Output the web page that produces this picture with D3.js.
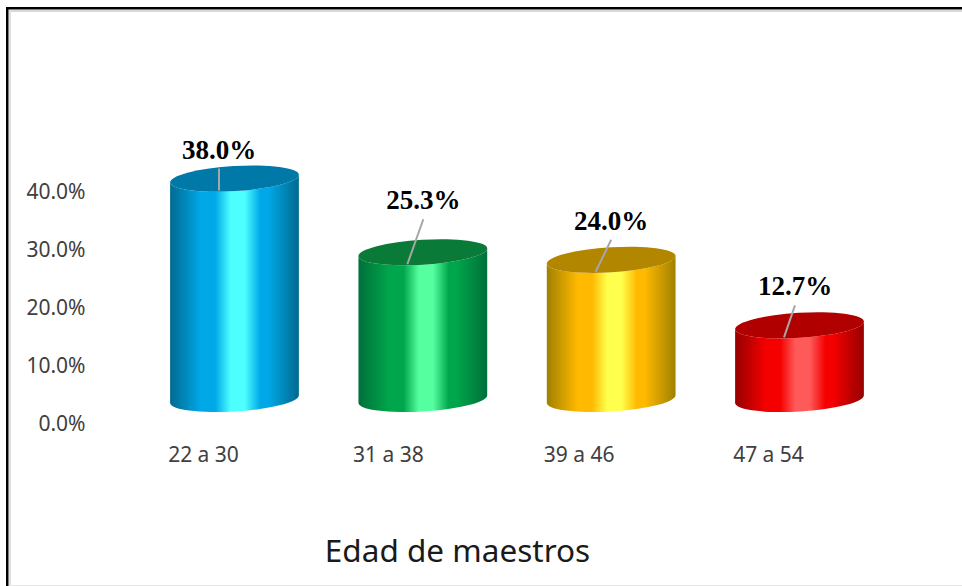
<!DOCTYPE html>
<html>
<head>
<meta charset="utf-8">
<script src="https://d3js.org/d3.v7.min.js"></script>
<style>
html, body { margin: 0; padding: 0; background: #fff; overflow: hidden; }
.axis path, .axis line { stroke: none; fill: none; }
.axis text, .cat { font-family: "Noto Sans", sans-serif; font-size: 21px; fill: #404040; }
.val { font-family: "Liberation Serif", serif; font-size: 27px; font-weight: bold; fill: #000; text-anchor: middle; }
.title { font-family: "Noto Sans", sans-serif; font-size: 31.5px; fill: #1a1a1a; text-anchor: middle; }
</style>
</head>
<body>
<svg id="chart" width="962" height="586"></svg>
<script>
// values
var categories = ["22 a 30", "31 a 38", "39 a 46", "47 a 54"];
var values = [38.0, 25.3, 24.0, 12.7];
var ticks = [0, 10, 20, 30, 40];
var xTitle = "Edad de maestros";

// dark edge, mid, highlight, lid
var edgeColors = ["#006a90", "#00703a", "#a08000", "#960000"];
var midColors = ["#00a8e8", "#00a64b", "#ffb900", "#f50000"];
var lightColors = ["#4dffff", "#55ff9f", "#ffff4d", "#ff5a5a"];
var lidColors = ["#0079a8", "#0a7a38", "#b38600", "#b00000"];

// label nudges, by hand like the original chart
var labelDx = [-15.5, 0.5, 0, -4.5];
var labelDy = [-20, -43, -30, -30];
var catDx = [-31, -34.5, -32, -31];

var svg = d3.select("#chart");

var x = d3.scalePoint().domain(categories).range([234.5, 799.5]);
var y = d3.scaleLinear().domain([0, 40]).range([399, 167]);

var rx = 64.5, ry = 12.5, tilt = -3.5;
var cosT = Math.cos(tilt * Math.PI / 180), sinT = Math.sin(tilt * Math.PI / 180);

// frame
svg.append("rect").attr("x", 9).attr("y", 10).attr("width", 953).attr("height", 2).attr("fill", "#d9d9d9");
svg.append("rect").attr("x", 9).attr("y", 10).attr("width", 2).attr("height", 576).attr("fill", "#e0e0e0");
svg.append("rect").attr("x", 9).attr("y", 585).attr("width", 953).attr("height", 1).attr("fill", "#e6e6e6");
svg.append("rect").attr("x", 6).attr("y", 7).attr("width", 956).attr("height", 2.5).attr("fill", "#000");
svg.append("rect").attr("x", 6).attr("y", 7).attr("width", 2.5).attr("height", 579).attr("fill", "#000");

// gradients
var defs = svg.append("defs");
categories.forEach(function(c, i) {
	var g = defs.append("linearGradient").attr("id", "cyl" + i)
		.attr("x1", "0%").attr("y1", "0%").attr("x2", "100%").attr("y2", "0%");
	[[0, edgeColors[i]], [0.24, midColors[i]], [0.35, midColors[i]], [0.47, lightColors[i]], [0.58, lightColors[i]], [0.7, midColors[i]], [0.76, midColors[i]], [1, edgeColors[i]]]
		.forEach(function(s) {
			g.append("stop").attr("offset", s[0]).attr("stop-color", s[1]);
		});
});

// axis, labels sit lower than the cylinder base
var yAxis = d3.axisLeft(y).tickValues(ticks).tickSize(0).tickPadding(0)
	.tickFormat(function(d) { return d3.format(".1f")(d) + "%"; });
svg.append("g").attr("class", "axis")
	.attr("transform", "translate(85.5,25)")
	.call(yAxis);

// cylinders
function body(cx, yTop, yBase) {
	var dx = rx * cosT, dy = rx * sinT;
	return "M" + (cx - dx) + "," + (yTop - dy) +
		"L" + (cx - dx) + "," + (yBase - dy) +
		"A" + rx + "," + ry + " " + tilt + " 0 0 " + (cx + dx) + "," + (yBase + dy) +
		"L" + (cx + dx) + "," + (yTop + dy) +
		"A" + rx + "," + ry + " " + tilt + " 0 1 " + (cx - dx) + "," + (yTop - dy) + "Z";
}

var bars = svg.selectAll(".bar").data(categories).enter().append("g").attr("class", "bar");

bars.append("path")
	.attr("d", function(d, i) { return body(x(d), y(values[i]), y(0)); })
	.attr("fill", function(d, i) { return "url(#cyl" + i + ")"; });

bars.append("ellipse")
	.attr("rx", rx).attr("ry", ry)
	.attr("transform", function(d, i) { return "translate(" + x(d) + "," + y(values[i]) + ") rotate(" + tilt + ")"; })
	.attr("fill", function(d, i) { return lidColors[i]; });

// leader lines
bars.append("line")
	.attr("x1", function(d, i) { return x(d) + labelDx[i]; })
	.attr("y1", function(d, i) { return y(values[i]) + labelDy[i] + 10; })
	.attr("x2", function(d) { return x(d) - 15.5; })
	.attr("y2", function(d, i) { return y(values[i]) + 12; })
	.attr("stroke", "#a6a6a6").attr("stroke-width", 2);

bars.append("text").attr("class", "val")
	.attr("x", function(d, i) { return x(d) + labelDx[i]; })
	.attr("y", function(d, i) { return y(values[i]) + labelDy[i]; })
	.text(function(d, i) { return d3.format(".1f")(values[i]) + "%"; });

bars.append("text").attr("class", "cat")
	.attr("x", function(d, i) { return x(d) + catDx[i]; })
	.attr("y", 462)
	.attr("text-anchor", "middle")
	.text(function(d) { return d; });

svg.append("text").attr("class", "title")
	.attr("x", 457.5).attr("y", 562)
	.text(xTitle);
</script>
</body>
</html>
